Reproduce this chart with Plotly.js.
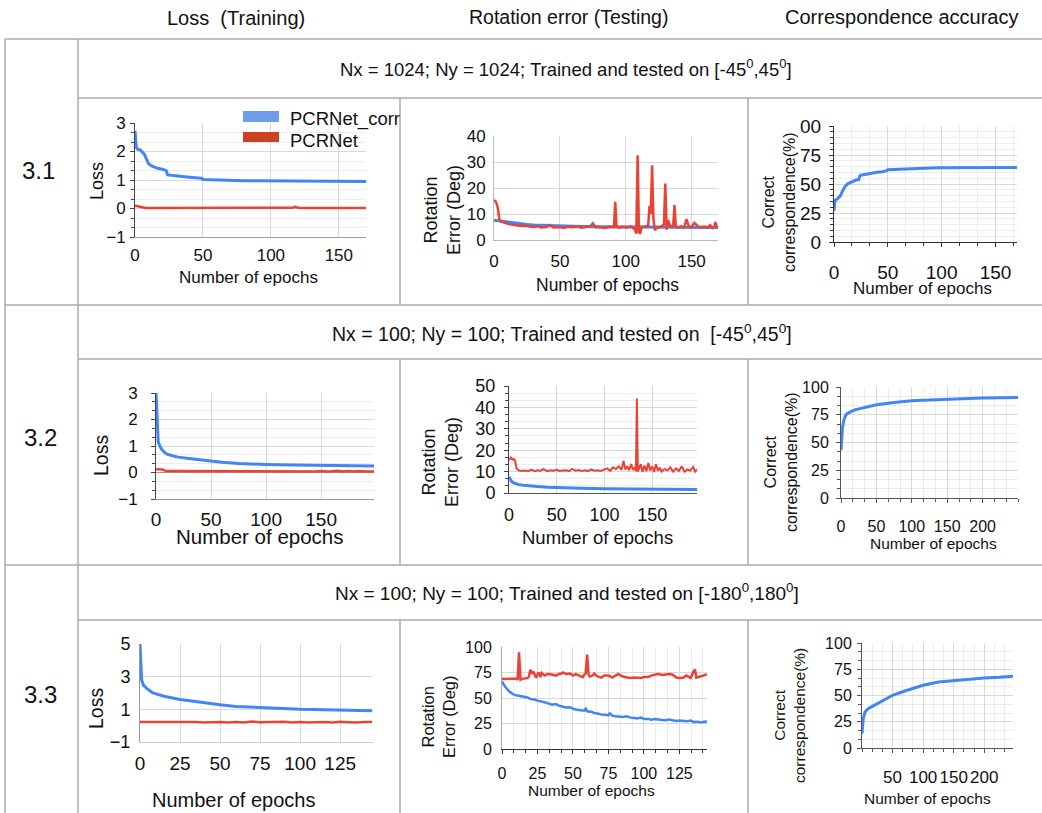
<!DOCTYPE html>
<html><head><meta charset="utf-8">
<script src="https://cdn.plot.ly/plotly-3.0.1.min.js"></script>
<style>html,body{margin:0;padding:0;background:#fff}#chart{width:1042px;height:813px}</style>
</head><body><div id="chart"></div>
<script>
// ---------- text ----------
const columnHeaders = ["Loss&nbsp; (Training)", "Rotation error (Testing)", "Correspondence accuracy"];
const rowLabels = ["3.1", "3.2", "3.3"];
const rowHeaders = [
  "Nx = 1024; Ny = 1024; Trained and tested on [-45<sup>0</sup>,45<sup>0</sup>]",
  "Nx = 100; Ny = 100; Trained and tested on&nbsp; [-45<sup>0</sup>,45<sup>0</sup>]",
  "Nx = 100; Ny = 100; Trained and tested on [-180<sup>0</sup>,180<sup>0</sup>]"
];
const seriesNames = ["PCRNet_corr", "PCRNet"];
const xTitle = "Number of epochs";
const yTitles = ["Loss", "Rotation<br>Error (Deg)", "Correct<br>correspondence(%)"];

// ---------- 3.1 ----------
const e31_loss_corr = [0,1,2,4,7,10,12,16,20,23,24,27,30,35,40,45,48,49,50,55,60,65,70,75,80,90,100,110,120,130,140,150,160,170];
const v31_loss_corr = [2.73,2.13,2.08,2.05,1.89,1.57,1.5,1.42,1.38,1.33,1.18,1.16,1.14,1.12,1.1,1.09,1.08,1.06,1.02,1.01,1.0,0.995,0.99,0.98,0.975,0.97,0.97,0.965,0.96,0.96,0.955,0.955,0.95,0.95];
const e31_loss_pcr = [0,1,2,3,4,5,8,12,20,30,50,70,90,110,116,118,120,125,140,160,170];
const v31_loss_pcr = [0.1,0.09,0.07,0.05,0.04,0.03,0.02,0.02,0.02,0.015,0.015,0.02,0.015,0.02,0.03,0.06,0.03,0.02,0.02,0.02,0.02];
const e31_rot_corr = [0,3,6,10,15,20,25,30,40,50,60,80,100,120,140,150,160,170];
const v31_rot_corr = [7.6,7.4,7.1,6.8,6.5,6.3,6.0,5.8,5.6,5.4,5.3,5.1,5.0,4.9,4.9,4.8,4.8,4.8];
const e31_rot_pcr = [0,1,2,3,4,5,6,8,10,12,15,18,20,23,26,30,33,36,40,42,45,50,53,56,60,63,66,70,73,75,77,80,84,88,91,92,93,95,98,101,104,107,108,109,110,111,112,115,117,118,119,120,121,122,124,126,128,129,130,131,132,133,134,136,137,138,140,142,144,145,146,148,150,152,154,156,158,160,162,164,165,166,167,168,169,170];
const v31_rot_pcr = [15.3,15.0,14.0,12.0,8.0,7.2,7.0,6.5,6.3,6.0,5.8,5.6,5.4,5.5,5.2,5.0,5.3,4.8,5.0,5.8,4.8,5.0,4.6,5.1,4.9,5.3,4.7,5.0,5.2,6.4,4.9,5.0,4.6,5.1,5.0,14.7,5.0,4.7,5.1,4.8,5.2,4.0,2.5,32.6,3.0,2.5,5.0,5.2,5.5,13.0,10.0,28.7,8.0,3.8,5.0,4.9,5.5,6.0,21.7,4.0,7.7,6.5,5.0,5.5,13.4,5.0,4.7,5.2,4.8,6.0,8.0,5.0,5.0,6.6,5.5,4.8,5.0,5.2,4.7,5.7,5.0,4.6,4.7,6.9,5.2,5.0];
const e31_acc = [0,0.5,1,3,6,8,10,13,17,20,23,24,25,30,35,40,45,48,49,50,55,60,70,75,80,90,100,120,140,160,170];
const v31_acc = [27,34,36,37,40,44,47.5,50.4,52.4,53.2,53.9,57.0,57.6,58.5,59.3,60.2,60.5,60.8,61.5,62.3,62.5,62.8,63.3,63.7,63.8,63.9,64,64,64.1,64.2,64.3];

// ---------- 3.2 ----------
const e32_loss_corr = [0,0.5,1,1.5,2,3,5,8,10,15,20,30,40,50,60,75,90,100,125,150,175,198];
const v32_loss_corr = [3.0,2.6,1.73,1.41,1.16,1.04,0.88,0.75,0.69,0.63,0.58,0.53,0.48,0.43,0.39,0.34,0.31,0.30,0.28,0.27,0.26,0.25];
const e32_loss_pcr = [0,3,6,8,10,20,40,60,80,100,110,120,125,130,135,140,145,150,155,160,165,170,175,180,185,190,198];
const v32_loss_pcr = [0.12,0.12,0.11,0.07,0.06,0.06,0.055,0.055,0.05,0.05,0.045,0.05,0.035,0.06,0.04,0.055,0.035,0.06,0.04,0.05,0.07,0.04,0.06,0.035,0.055,0.04,0.04];
const e32_rot_corr = [0,1,2,3,5,7,10,15,20,30,40,50,75,100,125,150,175,197];
const v32_rot_corr = [7.5,6.6,5.9,5.3,4.7,4.3,3.9,3.6,3.3,3.0,2.7,2.5,2.2,2.0,1.9,1.7,1.65,1.6];
const e32_rot_pcr = [0,1,2,3,4,5,6,7,8,10,13,16,20,24,27,30,33,36,40,43,46,50,53,56,60,63,66,70,73,76,80,83,86,90,93,96,100,103,106,109,112,115,118,120,122,124,126,128,130,132,133,134,135,136,138,140,142,144,146,148,150,152,154,156,158,160,163,166,169,172,175,178,181,184,187,190,193,195,197];
const v32_rot_pcr = [15.3,16.0,16.6,16.0,15.6,15.9,15.5,13.8,11.4,10.6,10.3,10.5,10.3,10.8,10.2,10.6,10.4,11.2,10.2,10.6,10.4,10.8,10.3,10.5,10.6,10.2,11.3,10.4,10.7,10.3,10.6,10.2,11.0,10.4,10.6,10.3,10.8,11.5,10.4,12.0,11.2,12.5,10.8,15.0,11.0,12.5,10.6,13.5,10.8,12.0,10.2,44.2,10.0,11.0,13.5,9.8,12.8,10.2,14.0,10.5,12.5,9.8,13.5,10.4,11.8,10.0,11.2,10.6,12.0,10.0,11.5,10.3,12.5,9.9,11.0,10.5,12.2,10.0,11.0];
const e32_acc = [0,1,2,4,7,10,15,20,30,40,50,75,100,125,150,175,200,225,250];
const v32_acc = [43,55,63,70,75,76.5,78,79.5,81,82.5,84,86,87.6,88.4,89.1,89.6,90,90.3,90.6];

// ---------- 3.3 ----------
const e33_loss_corr = [0,0.4,0.8,1,2,4,8,15,25,40,50,60,75,90,100,115,125,135,145];
const v33_loss_corr = [5.0,4.0,3.0,2.8,2.5,2.3,2.0,1.8,1.6,1.4,1.28,1.18,1.1,1.03,1.0,0.97,0.96,0.94,0.92];
const e33_loss_pcr = [0,10,20,25,30,35,40,45,50,55,60,65,70,75,80,85,90,95,100,105,110,115,120,125,130,135,140,145];
const v33_loss_pcr = [0.22,0.22,0.21,0.24,0.2,0.22,0.19,0.21,0.22,0.19,0.23,0.2,0.25,0.21,0.22,0.19,0.24,0.2,0.22,0.19,0.21,0.22,0.19,0.24,0.21,0.19,0.23,0.22];
const e33_rot_corr = [0,2,5,8,10,13,15,18,20,23,25,28,30,33,35,38,40,43,45,48,50,53,55,58,59,60,63,65,68,70,73,75,76,78,80,83,85,88,90,93,95,98,100,103,105,108,110,113,115,118,120,123,125,128,130,133,135,138,140,143,145];
const v33_rot_corr = [66.3,61.4,56.5,53.5,52.6,51.8,51,50.5,49,48.5,47.4,46.8,45.8,44.5,43.5,44,42.5,41.5,40.8,41,39.5,38.5,37.9,37.5,39.5,36.9,36.5,35.3,34.5,33.7,33.5,33,35,32.5,32,31.8,31.4,32,31,30.5,30,30.8,29.4,29.5,28.8,29.5,28.8,28.5,28.2,29,28.1,27.5,28,27.3,27.1,27.8,26.5,26.8,26.1,26.9,26.5];
const e33_rot_pcr = [0,5,10,11,12,13,15,18,19,20,21,22,24,25,26,27,28,30,32,35,38,40,42,43,45,48,50,52,55,57,58,59,60,61,62,64,65,67,70,72,75,78,80,82,85,88,90,93,95,98,100,103,105,108,110,113,115,118,120,123,125,128,130,133,135,136,137,140,142,145];
const v33_rot_pcr = [68.6,69,69,68,94.8,68,69,69.5,71,77.8,74,76,70,73,75,70.5,74.5,72,73.5,73,72,73.5,74,75,73.5,74,72,73.5,72,70.5,73,74,92.5,73,71,72,74,71.5,70,72,72,70,72,73.5,71,70,69.6,70,70,69.6,70.6,70.5,72,72.5,73.5,72.5,73,73.5,73,70,69.6,70,72,69.6,76,78,70,71,72,73.5];
const e33_acc = [0,1,2,5,10,20,30,40,50,70,90,100,125,150,175,200,225,247];
const v33_acc = [13.7,23,28,34.3,37.5,40.6,43.8,47,50.2,54.3,58,59.7,62.9,64.4,65.7,66.7,67.3,68.3];

// tick labels
const acc31TickVals = [0,25,50,75,100];
const acc31TickText = ["0","25","50","75","00"];
const loss33TickVals = [-1,1,3,5];
const acc33XTickVals = [50,100,150,200];
const acc32XTickVals = [0,50,100,150,200];

// ---------- layout helpers ----------
const W = 1042, H = 813;
const FONT = "Liberation Sans, Arial, Helvetica, sans-serif";
const BLUE = "#4285f4", RED = "#ea4335";
const GRID = "#d9d9d9", MINOR = "#ececec";
const PX = x => x / W, PY = y => 1 - y / H;

// panel geometry & style: box=[left,top,right,bottom] in px
const panels = [
  {box:[135,123,366,237], xr:[0,170], yr:[-1,3], xd:50, yd:1, ym:1/3, tf:17, yline:"#444", yticks:true, xline:"#999", xs:3, ys:1,
   tr:[[e31_loss_corr,v31_loss_corr,BLUE,3],[e31_loss_pcr,v31_loss_pcr,RED,2.5]],
   yt:{t:yTitles[0],x:97,y:181,s:18}, xt:{x:248,y:277,s:17}},
  {box:[494,136,718,240], xr:[0,170], yr:[0,40], xd:50, yd:10, tf:17, yline:"#bbb", xline:"#bbb", xs:6, ys:4,
   tr:[[e31_rot_corr,v31_rot_corr,BLUE,3],[e31_rot_pcr,v31_rot_pcr,RED,2.5]],
   yt:{t:yTitles[1],x:442,y:210,s:18}, xt:{x:607,y:285,s:17.5}},
  {box:[834,126,1017,242], xr:[0,170], yr:[0,100], xd:50, yd:25, ym:5, xm:50/3, tf:19, yline:"#333", yticks:true, xline:"#333", xticks:true, xs:9, ys:4,
   ytv:acc31TickVals, ytt:acc31TickText,
   tr:[[e31_acc,v31_acc,BLUE,3]],
   yt:{t:yTitles[2],x:779,y:202,s:16}, xt:{x:922,y:288,s:17}},
  {box:[156,393,374,499], xr:[0,198], yr:[-1,3], xd:50, yd:1, ym:1/3, tf:17, xtf:19, yline:"#444", yticks:true, xline:"#999", zero:"#999", xs:3, ys:10,
   tr:[[e32_loss_corr,v32_loss_corr,BLUE,3],[e32_loss_pcr,v32_loss_pcr,RED,2.5]],
   yt:{t:yTitles[0],x:101,y:456,s:19.5}, xt:{x:260,y:536,s:20.5}},
  {box:[509,386,697,493], xr:[0,197], yr:[0,50], xd:50, yd:10, ym:10/3, tf:18, yline:"#444", yticks:true, xline:"#555", xs:5, ys:5,
   tr:[[e32_rot_corr,v32_rot_corr,BLUE,3],[e32_rot_pcr,v32_rot_pcr,RED,2]],
   yt:{t:yTitles[1],x:441,y:462,s:18}, xt:{x:597,y:537,s:18.5}},
  {box:[841,387,1018,498], xr:[0,250], yr:[0,100], xd:50, yd:25, ym:25/3, xm:50/3, tf:16, yline:"#555", yticks:true, xline:"#555", xticks:true, xs:10, ys:4,
   xtv:acc32XTickVals,
   tr:[[e32_acc,v32_acc,BLUE,3]],
   yt:{t:yTitles[2],x:781,y:462,s:16}, xt:{x:933,y:543,s:15.5}},
  {box:[140,644,373,742], xr:[0,145.5], yr:[-1,5], xd:25, tf:18, xtf:19, yline:"#999", xline:"#ccc", xs:4, ys:5,
   ytv:loss33TickVals,
   tr:[[e33_loss_corr,v33_loss_corr,BLUE,3],[e33_loss_pcr,v33_loss_pcr,RED,2.5]],
   yt:{t:yTitles[0],x:96,y:709,s:19.5}, xt:{x:233,y:800,s:20}},
  {box:[502,647,707,749], xr:[0,144.5], yr:[0,100], xd:25, yd:25, xm:25/3, tf:16, yline:"#aaa", xline:"#333", xticks:true, xs:6, ys:6,
   tr:[[e33_rot_corr,v33_rot_corr,BLUE,2.5],[e33_rot_pcr,v33_rot_pcr,RED,2.5]],
   yt:{t:yTitles[1],x:438,y:717,s:16.5}, xt:{x:591,y:790,s:15.5}},
  {box:[862,643,1013,748], xr:[0,247], yr:[0,100], xd:50, yd:25, ym:25/3, xm:50/3, tf:16, xtf:17, yline:"#555", yticks:true, xline:"#555", xticks:true, xs:10, ys:2,
   xtv:acc33XTickVals,
   tr:[[e33_acc,v33_acc,BLUE,3]],
   yt:{t:yTitles[2],x:789,y:716,s:15.5}, xt:{x:927,y:798,s:15.5}}
];

const traces = [];
const layout = {
  width: W, height: H, margin:{l:0,r:0,t:0,b:0},
  paper_bgcolor:"#fff", plot_bgcolor:"#fff", showlegend:false,
  font:{family:FONT, color:"#111"},
  annotations:[], shapes:[]
};
function ann(text, x, y, size, extra) {
  layout.annotations.push(Object.assign({text, x:PX(x), y:PY(y), xref:"paper", yref:"paper",
    xanchor:"center", yanchor:"middle", showarrow:false, font:{family:FONT, size, color:"#111"}}, extra||{}));
}

panels.forEach((p, i) => {
  const n = i + 1, xa = "x" + (n>1?n:""), ya = "y" + (n>1?n:"");
  const [l,t,r,b] = p.box;
  p.tr.forEach(([xs, ys, col, w]) => traces.push({
    type:"scatter", mode:"lines", x:xs, y:ys, xaxis:xa, yaxis:ya,
    line:{color:col, width:w}, hoverinfo:"skip"
  }));
  const xaxis = {
    domain:[PX(l), PX(r)], range:p.xr, anchor:ya, dtick:p.xd, tick0:0,
    showgrid:true, gridcolor:GRID, gridwidth:1, zeroline:false,
    showline:true, linecolor:p.xline, linewidth:1, mirror:false,
    ticks:p.xticks?"outside":"", ticklen:4, tickcolor:p.xline,
    tickfont:{family:FONT, size:p.xtf||p.tf, color:"#111"}, ticklabelstandoff:p.xs,
    fixedrange:true
  };
  if (p.xtv) { xaxis.tickmode="array"; xaxis.tickvals=p.xtv; }
  if (p.xm) xaxis.minor = {dtick:p.xm, tick0:0, showgrid:true, gridcolor:MINOR, ticks:p.xticks?"outside":"", ticklen:3, tickcolor:p.xline};
  const yaxis = {
    domain:[PY(b), PY(t)], range:p.yr, anchor:xa, tick0:0,
    showgrid:true, gridcolor:GRID, gridwidth:1,
    zeroline:!!p.zero, zerolinecolor:p.zero||GRID, zerolinewidth:1.5,
    showline:true, linecolor:p.yline, linewidth:1,
    ticks:p.yticks?"outside":"", ticklen:4, tickcolor:p.yline,
    tickfont:{family:FONT, size:p.tf, color:"#111"}, ticklabelstandoff:p.ys,
    fixedrange:true
  };
  if (p.yd) yaxis.dtick = p.yd;
  if (p.ytv) { yaxis.tickmode="array"; yaxis.tickvals=p.ytv; if (p.ytt) yaxis.ticktext=p.ytt; }
  if (p.ym) yaxis.minor = {dtick:p.ym, tick0:0, showgrid:true, gridcolor:MINOR, ticks:p.yticks?"outside":"", ticklen:3, tickcolor:p.yline};
  layout["xaxis"+(n>1?n:"")] = xaxis;
  layout["yaxis"+(n>1?n:"")] = yaxis;
  ann(p.yt.t, p.yt.x, p.yt.y, p.yt.s, {textangle:-90});
  ann(xTitle, p.xt.x, p.xt.y, p.xt.s);
});

// legend in panel 3.1 loss
layout.shapes.push({type:"rect", xref:"paper", yref:"paper", x0:PX(243), x1:PX(279), y0:PY(122), y1:PY(111), fillcolor:"#6d9eeb", line:{width:0}});
layout.shapes.push({type:"rect", xref:"paper", yref:"paper", x0:PX(243), x1:PX(279), y0:PY(142), y1:PY(132), fillcolor:"#cc4125", line:{width:0}});
ann(seriesNames[0], 288, 119, 18.5, {xanchor:"left"});
ann(seriesNames[1], 288, 140, 18.5, {xanchor:"left"});

// table lines
const LC = "#ababab", LW = 1.5;
function hline(y, x0, x1) { layout.shapes.push({type:"line", xref:"paper", yref:"paper", x0:PX(x0), x1:PX(x1), y0:PY(y), y1:PY(y), line:{color:LC, width:LW}}); }
function vline(x, y0, y1) { layout.shapes.push({type:"line", xref:"paper", yref:"paper", x0:PX(x), x1:PX(x), y0:PY(y0), y1:PY(y1), line:{color:LC, width:LW}}); }
hline(39, 5, 1042); hline(305, 5, 1042); hline(565, 5, 1042);
hline(98, 78, 1042); hline(359, 78, 1042); hline(620, 78, 1042);
vline(5, 39, 813); vline(78, 39, 813);
[[98,305],[359,565],[620,813]].forEach(([a,b]) => { vline(400, a, b); vline(748, a, b); });

// headers
ann(columnHeaders[0], 236, 18, 20);
ann(columnHeaders[1], 568, 17, 19.5);
ann(columnHeaders[2], 901, 17, 20);
ann(rowHeaders[0], 566, 68, 18.5);
ann(rowHeaders[1], 562, 333, 19.5);
ann(rowHeaders[2], 567, 592, 19);
ann(rowLabels[0], 38, 170, 24);
ann(rowLabels[1], 40, 437, 24);
ann(rowLabels[2], 40, 694, 24);

Plotly.newPlot("chart", traces, layout, {staticPlot:true, displayModeBar:false});
</script></body></html>
